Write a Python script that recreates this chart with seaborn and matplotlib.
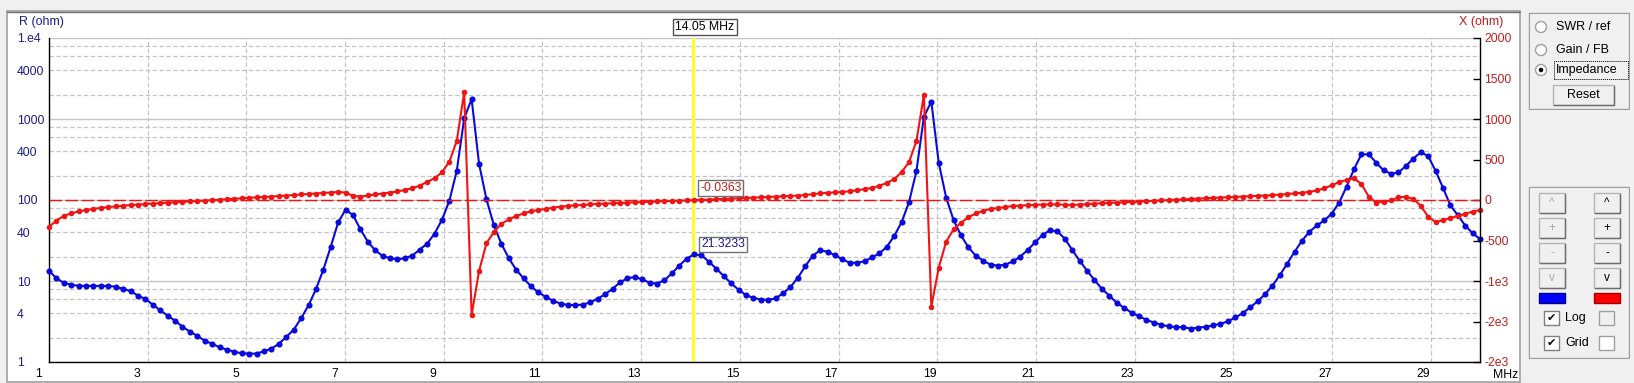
import numpy as np
import pandas as pd
import matplotlib
matplotlib.use("Agg")
import matplotlib.pyplot as plt
import seaborn as sns
from matplotlib.patches import Rectangle, Ellipse
from matplotlib.lines import Line2D
import matplotlib.transforms as mtransforms

# ---------------- data ----------------
freq_start, freq_stop, n_points = 1.0, 30.0, 194
freq_mhz = np.linspace(freq_start, freq_stop, n_points)

r_ohm = [
    13.4, 10.8, 9.5, 9.0, 8.7, 8.7, 8.7, 8.7, 8.7, 8.5,
    8.0, 7.5, 6.6, 6.0, 5.1, 4.35, 3.73, 3.24, 2.73, 2.37,
    2.11, 1.83, 1.68, 1.52, 1.42, 1.34, 1.28, 1.27, 1.27, 1.36,
    1.46, 1.68, 2.04, 2.5, 3.46, 5.0, 7.9, 13.8, 26.5, 53,
    76, 65, 43.5, 30.5, 23.9, 20.4, 19.1, 18.5, 19.1, 20.6,
    24.4, 28.9, 38.4, 57, 98, 230, 1020, 1766, 280, 102,
    49, 28.9, 19.2, 13.8, 10.8, 8.6, 7.25, 6.35, 5.7, 5.25,
    5.06, 5.06, 5.1, 5.46, 6.05, 6.86, 8.0, 9.6, 10.8, 11.2,
    10.5, 9.5, 9.3, 10.2, 12.4, 15.5, 18.9, 21.3, 20.8, 17.3,
    14.2, 11.5, 9.35, 7.8, 6.7, 6.2, 5.9, 5.85, 6.1, 7.05,
    8.4, 11, 15.2, 20.5, 23.9, 23.0, 20.8, 18.5, 16.8, 16.8,
    17.5, 19.6, 21.9, 26.5, 36, 53.5, 94.5, 230, 1070, 1636,
    288, 107, 56.6, 36.6, 26, 20.5, 17.8, 15.9, 15.5, 15.9,
    17.5, 20.0, 24.2, 30, 37.2, 42.2, 41, 33.3, 24.2, 17.8,
    13.4, 10.3, 8.0, 6.6, 5.4, 4.67, 4.07, 3.67, 3.33, 3.06,
    2.89, 2.75, 2.7, 2.69, 2.58, 2.66, 2.72, 2.83, 2.97, 3.17,
    3.55, 4.0, 4.74, 5.6, 6.86, 8.74, 11.8, 16.4, 23, 31.5,
    40.6, 48.5, 56, 68, 92.5, 146, 239, 366, 366, 289,
    232, 211, 219, 263, 324, 388, 349, 230, 142, 86,
    65, 48.4, 38.9, 33,
]

x_ohm = [
    -330, -255, -195, -165, -140, -123, -110, -97, -87, -78,
    -70, -62, -56, -50, -44, -38, -33, -28, -23, -18,
    -12, -7, -2, 4, 10, 16, 22, 28, 33, 38,
    43, 48, 55, 62, 68, 74, 80, 86, 92, 99,
    92, 52, 42, 56, 68, 80, 92, 105, 125, 145,
    178, 222, 268, 342, 473, 732, 1330, -1420, -877, -535,
    -395, -296, -239, -198, -165, -140, -123, -111, -95, -82,
    -74, -66, -62, -53, -49, -45, -41, -37, -33, -29,
    -25, -21, -16, -14, -12, -8, -6, 0, 2, 5,
    9, 13, 17, 21, 25, 29, 33, 37, 41, 45,
    50, 55, 62, 72, 82, 88, 93, 99, 107, 120,
    134, 150, 175, 212, 258, 346, 469, 732, 1300, -1317,
    -836, -514, -362, -280, -214, -165, -132, -111, -99, -86,
    -74, -70, -64, -60, -56, -54, -55, -58, -60, -57,
    -52, -45, -40, -36, -32, -28, -24, -20, -15, -10,
    -6, -2, 3, 8, 13, 18, 22, 26, 30, 34,
    38, 42, 46, 50, 55, 60, 66, 73, 81, 90,
    100, 118, 145, 181, 222, 247, 268, 198, 41, -33,
    -21, -4, 33, 41, 12, -70, -206, -272, -251, -222,
    -198, -169, -144, -123,
]

cursor_mhz = 14.05
cursor_label = "14.05 MHz"
cursor_r_value = 21.3233
cursor_r_label = "21.3233"
cursor_x_value = -0.0363
cursor_x_label = "-0.0363"

x_tick_vals = list(range(1, 30, 2))
x_tick_labels = [str(v) for v in x_tick_vals]
r_major_vals = [1, 10, 100, 1000, 10000]
r_major_labels = ["1", "10", "100", "1000", "1.e4"]
r_minor_vals = [m * d for d in (1, 10, 100, 1000) for m in (2, 4, 6, 8)]
r_minor_labels = [("%d" % v) if str(v).startswith("4") else "" for v in r_minor_vals]
xr_tick_vals = [-2000, -1500, -1000, -500, 0, 500, 1000, 1500, 2000]
xr_tick_labels = ["-2e3", "-2e3", "-1e3", "-500", "0", "500", "1000", "1500", "2000"]

df = pd.DataFrame({"freq": freq_mhz, "R": r_ohm, "X": x_ohm})

# ---------------- style ----------------
sns.set_style("white")
plt.rcParams["font.family"] = ["Liberation Sans", "DejaVu Sans"]

BLUE = "#0A0ADC"
RED = "#F01414"
NAVY = "#1C1C8E"
DARKRED = "#C01E1E"
GRID = "#C4C4C4"
BG = "#F0F0F0"
FS = 8.8

W, H = 1634, 383
fig = plt.figure(figsize=(W / 100, H / 100), dpi=100, facecolor=BG)


def frect(x0, y0, x1, y1, **kw):
    r = Rectangle((x0 / W, 1 - y1 / H), (x1 - x0) / W, (y1 - y0) / H,
                  transform=fig.transFigure, **kw)
    fig.add_artist(r)
    return r


def fline(xs, ys, **kw):
    fig.add_artist(Line2D([x / W for x in xs], [1 - y / H for y in ys],
                          transform=fig.transFigure, **kw))


def ftext(x, y, s, **kw):
    fig.text(x / W, 1 - y / H, s, **kw)


def fcircle(cx, cy, d, **kw):
    fig.add_artist(Ellipse((cx / W, 1 - cy / H), d / W, d / H,
                           transform=fig.transFigure, **kw))


def button(x0, y0, x1, y1, label, color="black", fs=8.5):
    frect(x0, y0, x1, y1, fc="#F0F0F0", ec="#B4B4B4", lw=1, zorder=1)
    fline([x0 + 0.5, x1, x1], [y1, y1, y0 + 0.5], color="#6E6E6E", lw=1, zorder=2)
    ftext((x0 + x1) / 2, (y0 + y1) / 2, label, ha="center", va="center",
          fontsize=fs, color=color, zorder=3)


# white chart panel
frect(7, 11, 1520, 382, fc="white", ec="#A0A0A0", lw=1.2, zorder=-2)
fline([7, 1520], [11.5, 11.5], color="#707070", lw=1, zorder=-1)

# ---------------- axes ----------------
ax = fig.add_axes([49 / W, 21 / H, 1431 / W, 324 / H])
ax.set_facecolor("white")
ax.set_yscale("log")
ax.set_xlim(freq_start, freq_stop)
ax.set_ylim(1, 1e4)

sns.lineplot(data=df, x="freq", y="R", ax=ax, color=BLUE, lw=1.5,
             marker="o", markersize=4.4, markeredgewidth=0,
             estimator=None, legend=False, clip_on=False, zorder=3)

ax.axvline(cursor_mhz, color="#FFFF30", lw=2.3, zorder=2)

ax2 = ax.twinx()
ax2.set_ylim(-2000, 2000)
ax2.axhline(0, color=RED, lw=1.0, dashes=(9, 2.5), zorder=1)
sns.lineplot(data=df, x="freq", y="X", ax=ax2, color=RED, lw=1.5,
             marker="o", markersize=4.0, markeredgewidth=0,
             estimator=None, legend=False, clip_on=False, zorder=2)
ax2.set_xlim(freq_start, freq_stop)
ax2.set_ylim(-2000, 2000)

for a in (ax, ax2):
    a.set_xlabel("")
    a.set_ylabel("")

# grid
ax.set_xticks(x_tick_vals, x_tick_labels)
ax.set_yticks(r_major_vals, r_major_labels)
ax.set_yticks(r_minor_vals, r_minor_labels, minor=True)
ax.grid(True, which="major", axis="y", color=GRID, lw=1.0, ls="-")
ax.grid(True, which="minor", axis="y", color=GRID, lw=0.9, ls=(0, (3.5, 2)))
ax.grid(True, which="major", axis="x", color=GRID, lw=0.9, ls=(0, (3.5, 2)))
ax.set_axisbelow(True)

ax.tick_params(axis="x", length=0, pad=4, labelsize=FS, labelcolor="black")
ax.tick_params(axis="y", which="both", length=0, pad=23, labelsize=FS,
               labelcolor=NAVY)
for lbl in ax.get_yticklabels(which="both"):
    lbl.set_horizontalalignment("left")

ax2.set_yticks(xr_tick_vals, xr_tick_labels)
ax2.tick_params(axis="y", direction="in", length=5, width=1, color="black",
                labelcolor=DARKRED, labelsize=FS, pad=3)

for s in ("top", "right"):
    ax.spines[s].set_visible(False)
for s in ("left", "bottom"):
    ax.spines[s].set_color("black")
    ax.spines[s].set_linewidth(1)
for s in ("left", "top", "bottom"):
    ax2.spines[s].set_visible(False)
ax2.spines["right"].set_color("black")
ax2.spines["right"].set_linewidth(1)

offset = mtransforms.ScaledTranslation(-14 / 100, 0, fig.dpi_scale_trans)
for lbl in ax.get_xticklabels():
    lbl.set_horizontalalignment("left")
    lbl.set_transform(lbl.get_transform() + offset)

# cursor annotations
ax2.annotate(cursor_label, xy=(cursor_mhz, 1), xycoords=("data", "axes fraction"),
             xytext=(12, 11), textcoords="offset pixels", ha="center", va="center",
             fontsize=FS, color="black", annotation_clip=False, zorder=6,
             bbox=dict(boxstyle="square,pad=0.2", fc="white", ec="#505050", lw=1))
ax2.annotate(cursor_x_label, xy=(cursor_mhz, cursor_x_value),
             xytext=(28, 12), textcoords="offset pixels", ha="center", va="center",
             fontsize=FS, color=DARKRED, zorder=6,
             bbox=dict(boxstyle="square,pad=0.15", fc="white", ec="#707070", lw=1))
ax.annotate(cursor_r_label, xy=(cursor_mhz, cursor_r_value),
            xytext=(30, 10), textcoords="offset pixels", ha="center", va="center",
            fontsize=FS, color=NAVY, zorder=6,
            bbox=dict(boxstyle="square,pad=0.15", fc="white", ec="#707070", lw=1))

# axis titles
ftext(19, 22, "R (ohm)", ha="left", va="center", fontsize=9, color=NAVY)
ftext(1459, 22, "X (ohm)", ha="left", va="center", fontsize=9, color=DARKRED)
ftext(1493, 375, "MHz", ha="left", va="center", fontsize=FS, color="black")

# ---------------- right control panel ----------------
PFS = 9
# group 1
frect(1530, 14, 1630, 110, fc="none", ec="white", lw=1, zorder=1)
frect(1529, 13, 1629, 109, fc="none", ec="#A0A0A0", lw=1, zorder=2)
for cy, label in ((27, "SWR / ref"), (50, "Gain / FB"), (70, "Impedance")):
    fcircle(1541, cy, 11, fc="white", ec="#A0A0A0", lw=1, zorder=2)
    ftext(1556, cy, label, ha="left", va="center", fontsize=PFS, color="black")
fcircle(1541, 70, 4.5, fc="black", ec="none", zorder=3)
frect(1554, 61, 1628, 79, fc="none", ec="black", lw=0.7, ls=(0, (1, 1)), zorder=3)
button(1553, 85, 1614, 105, "Reset", fs=PFS)

# group 2
frect(1530, 188, 1630, 359, fc="none", ec="white", lw=1, zorder=1)
frect(1529, 187, 1629, 358, fc="none", ec="#A0A0A0", lw=1, zorder=2)
rows = ((193, 213, "^"), (218, 238, "+"), (243, 263, "-"), (268, 288, "v"))
for y0, y1, lab in rows:
    button(1539, y0, 1565, y1, lab, color="#A8A8A8", fs=8.5)
    button(1594, y0, 1620, y1, lab, color="black", fs=8.5)
frect(1539, 293, 1565, 303, fc="#0000FF", ec="#00008C", lw=1, zorder=2)
frect(1594, 293, 1620, 303, fc="#FF0000", ec="#A00000", lw=1, zorder=2)

for cy, lab, right_fc in ((318, "Log", "#F0F0F0"), (343, "Grid", "white")):
    frect(1544, cy - 7, 1559, cy + 7, fc="white", ec="#808080", lw=1, zorder=2)
    ftext(1551.5, cy, "\u2714", ha="center", va="center", fontsize=8,
          family="DejaVu Sans", color="black", zorder=3)
    ftext(1565, cy, lab, ha="left", va="center", fontsize=PFS, color="black")
    frect(1599, cy - 7, 1614, cy + 7, fc=right_fc, ec="#A0A0A0", lw=1, zorder=2)

fig.savefig("out.png", dpi=100, facecolor=fig.get_facecolor())
